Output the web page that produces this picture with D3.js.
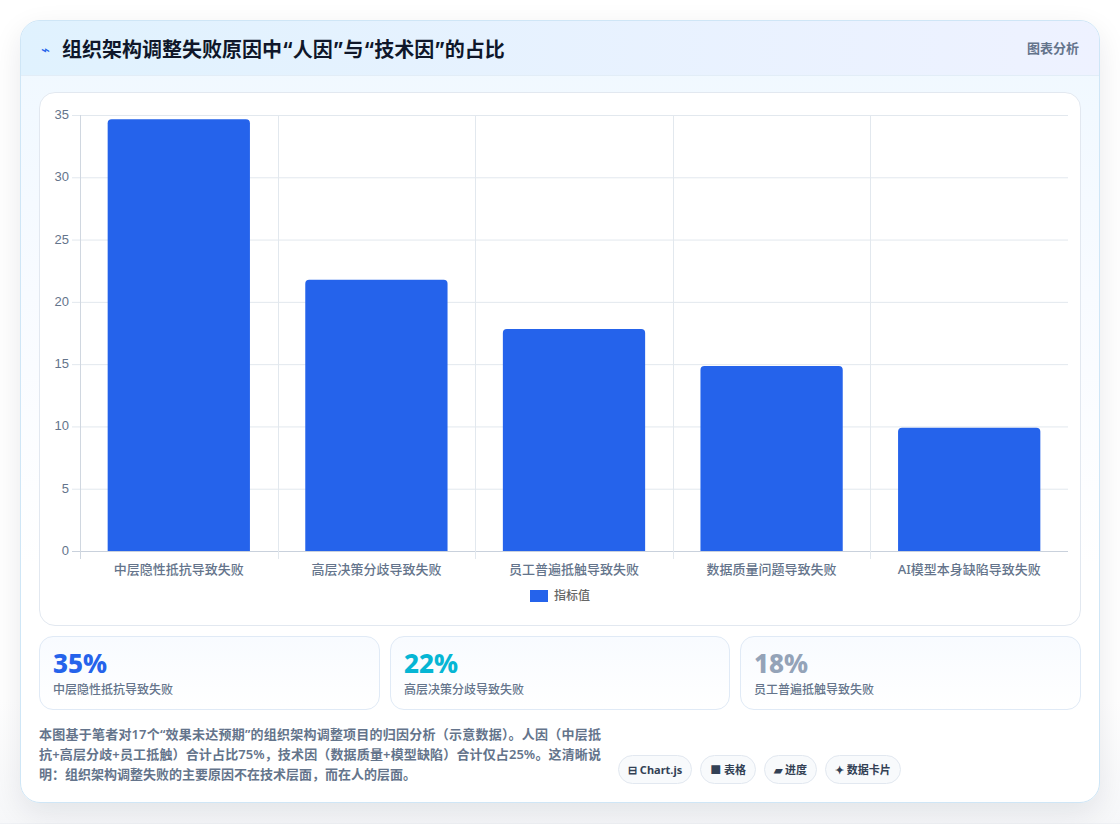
<!DOCTYPE html>
<html lang="zh-CN">
<head>
<meta charset="utf-8">
<title>组织架构调整失败原因</title>
<script src="https://cdn.jsdelivr.net/npm/d3@7/dist/d3.min.js"></script>
<style>
  * { box-sizing: border-box; }
  html, body { margin: 0; padding: 0; width: 1120px; height: 824px; overflow: hidden;
    background: linear-gradient(#fff 0, #fff 700px, #f6f7f9 823px, #e9ecf1 824px);
    font-family: "Noto Sans", "Noto Sans CJK SC", sans-serif; }
  .card { position: absolute; left: 20px; top: 20px; width: 1080px; height: 783px; border-radius: 20px;
    border: 1px solid #cfe6f6; background: linear-gradient(180deg, #eff8ff 0, #f8fbff 35%, #fff 70%);
    box-shadow: 0 10px 30px rgba(15, 23, 42, .09); overflow: hidden; }
  .head { height: 55px; background: linear-gradient(90deg, #e0f2fe, #eef2ff); border-bottom: 1px solid #e2edf7;
    position: relative; }
  .head .icon { position: absolute; left: 20px; top: 18px; font-size: 15px; line-height: 20px; color: #2563eb; }
  .head h1 { position: absolute; left: 41px; top: 15px; margin: 0; font-family: "Inter", "Noto Sans CJK SC", sans-serif; font-size: 20px; line-height: 28px; font-weight: 700; color: #0f172a; white-space: nowrap; }
  .head .tag { position: absolute; right: 20px; top: 17px; font-size: 13px; line-height: 20px; font-weight: 600; color: #64748b; }
  .chart { position: absolute; left: 18px; top: 71px; width: 1042px; height: 534px; background: #fff;
    border: 1px solid #e2e8f0; border-radius: 16px; }
  svg { position: absolute; left: 0; top: 0; }
  .stat { position: absolute; top: 615px; height: 74px; border: 1px solid #e0eaf6; border-radius: 14px;
    background: linear-gradient(180deg, #f8fbff, #fff); }
  .stat b { position: absolute; left: 13px; top: 11px; font: 800 26px/30px "Noto Sans", sans-serif; }
  .stat span { position: absolute; left: 13px; top: 44px; font-size: 12px; line-height: 18px; font-weight: 500; color: #64748b; white-space: nowrap; }
  .note { position: absolute; left: 18px; top: 703px; width: 562px; font-size: 13px; line-height: 20px; font-weight: 600; color: #64748b; margin: 0; text-align: justify; }
  .pills { position: absolute; left: 597px; top: 734px; display: flex; gap: 8px; }
  .pill { height: 29px; padding: 0 9px; border: 1px solid #e2e8f0; border-radius: 15px; background: #f8fafc;
    font-size: 11px; line-height: 27px; font-weight: 700; color: #334155; white-space: nowrap; }
</style>
</head>
<body>
<div class="card" id="card">
  <div class="head">
    <span class="icon">⌁</span>
    <h1 id="title"></h1>
    <span class="tag">图表分析</span>
  </div>
  <div class="chart" id="chart"></div>
  <p class="note" id="note"></p>
  <div class="pills" id="pills"></div>
</div>
<script>
const titleText = "组织架构调整失败原因中“人因”与“技术因”的占比";
const categories = ["中层隐性抵抗导致失败", "高层决策分歧导致失败", "员工普遍抵触导致失败", "数据质量问题导致失败", "AI模型本身缺陷导致失败"];
const values = [35, 22, 18, 15, 10];
const yTicks = [0, 5, 10, 15, 20, 25, 30, 35];
const seriesName = "指标值";
const statColors = ["#2563eb", "#06b6d4", "#94a3b8"];
const statLefts = [18, 369, 719];
const statWidths = [341, 340, 341];
const noteText = "本图基于笔者对17个“效果未达预期”的组织架构调整项目的归因分析（示意数据）。人因（中层抵抗+高层分歧+员工抵触）合计占比75%，技术因（数据质量+模型缺陷）合计仅占25%。这清晰说明：组织架构调整失败的主要原因不在技术层面，而在人的层面。";
const pillLabels = ["⊟ Chart.js", "■ 表格", "▰ 进度", "✦ 数据卡片"];
// Bars stop just short of full height, as when the entry animation is about to settle.
const barProgress = 0.99;

d3.select("#title").text(titleText);
d3.select("#note").text(noteText);
d3.select("#pills").selectAll("div").data(pillLabels).join("div").attr("class", "pill").text(d => d);

// Headline figures beneath the chart
const card = d3.select("#card");
values.slice(0, 3).forEach((v, i) => {
  const s = card.append("div").attr("class", "stat")
    .style("left", statLefts[i] + "px").style("width", statWidths[i] + "px");
  s.append("b").style("color", statColors[i]).text(v + "%");
  s.append("span").text(categories[i]);
});

const W = 1042, H = 532;
const margin = { left: 40, right: 14, top: 22, bottom: 74 };
const svg = d3.select("#chart").append("svg").attr("width", W).attr("height", H);
const x = d3.scaleBand().domain(categories).range([margin.left, W - margin.right]).paddingInner(0).paddingOuter(0);
const y = d3.scaleLinear().domain([0, 35]).range([H - margin.bottom, margin.top]);
const barWidth = x.bandwidth() * 0.72;

// Horizontal grid with short tick stubs left of the plot
svg.append("g").selectAll("line").data(yTicks).join("line")
  .attr("x1", margin.left - 8).attr("x2", W - margin.right)
  .attr("y1", d => y(d) + .5).attr("y2", d => y(d) + .5)
  .attr("stroke", d => d === 0 ? "#c9d1dc" : "#e2e8ee");

// Vertical grid at the band edges, running past the baseline
const edges = categories.map(c => x(c));
svg.append("g").selectAll("line").data(edges).join("line")
  .attr("x1", d => Math.round(d) + .5).attr("x2", d => Math.round(d) + .5)
  .attr("y1", margin.top).attr("y2", H - margin.bottom + 8)
  .attr("stroke", (d, i) => i === 0 ? "#d0d7e0" : "#e2e8ee");

svg.append("g").selectAll("text").data(yTicks).join("text")
  .attr("x", margin.left - 11).attr("y", d => y(d) + 4)
  .attr("text-anchor", "end").attr("font-size", 13).attr("fill", "#64748b")
  .attr("font-family", "'Liberation Sans', sans-serif").text(d => d);

// Rounded-top bars
const barPath = d => {
  const left = x(d.c) + (x.bandwidth() - barWidth) / 2, top = y(d.v * barProgress), base = y(0), r = 4;
  const p = d3.path();
  p.moveTo(left, base);
  p.lineTo(left, top + r);
  p.quadraticCurveTo(left, top, left + r, top);
  p.lineTo(left + barWidth - r, top);
  p.quadraticCurveTo(left + barWidth, top, left + barWidth, top + r);
  p.lineTo(left + barWidth, base);
  p.closePath();
  return p.toString();
};
svg.append("g").selectAll("path").data(categories.map((c, i) => ({ c, v: values[i] }))).join("path")
  .attr("d", barPath).attr("fill", "#2563eb");

svg.append("g").selectAll("text").data(categories).join("text")
  .attr("x", d => x(d) + x.bandwidth() / 2).attr("y", H - margin.bottom + 22.5)
  .attr("text-anchor", "middle").attr("font-size", 13).attr("font-weight", 500).attr("fill", "#64748b").text(d => d);

// Legend
svg.append("rect").attr("x", 490).attr("y", 497).attr("width", 18).attr("height", 12).attr("fill", "#2563eb");
svg.append("text").attr("x", 514).attr("y", 507).attr("font-size", 12).attr("font-weight", 500).attr("fill", "#666").text(seriesName);
</script>
</body>
</html>
